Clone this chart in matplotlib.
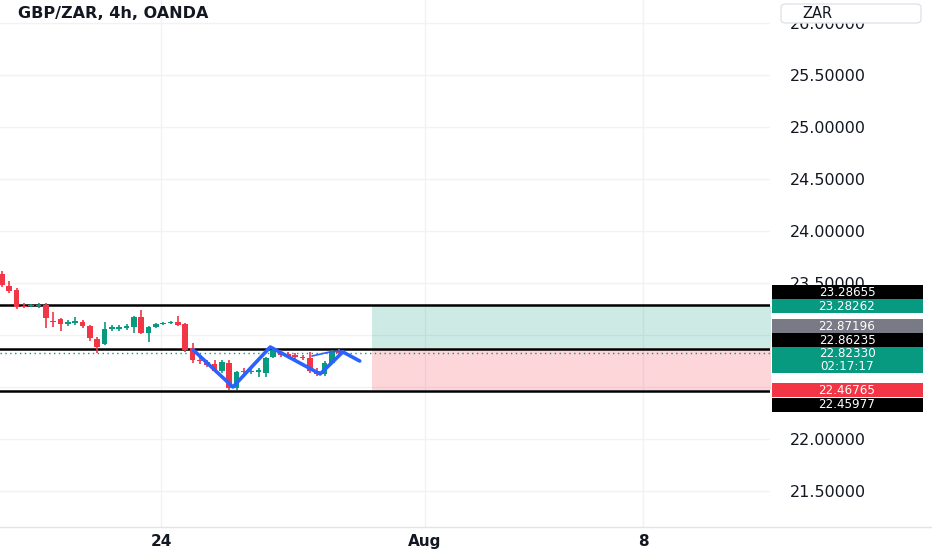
import matplotlib
matplotlib.use("Agg")
import matplotlib.pyplot as plt
from matplotlib.patches import Rectangle, FancyBboxPatch
from matplotlib.lines import Line2D

# GBP/ZAR 4h candles (bar index 0..46)
opens  = [23.587, 23.471, 23.433, 23.279, 23.275, 23.279, 23.288, 23.135, 23.154, 23.106,
          23.115, 23.125, 23.087, 22.962, 22.913, 23.058, 23.062, 23.067, 23.077, 23.173,
          23.019, 23.077, 23.106, 23.115, 23.125, 23.106, 22.875, 22.760, 22.740, 22.721,
          22.654, 22.731, 22.490, 22.654, 22.644, 22.644, 22.635, 22.788, 22.837, 22.817,
          22.808, 22.788, 22.779, 22.654, 22.625, 22.731, 22.837]
highs  = [23.615, 23.519, 23.452, 23.308, 23.298, 23.308, 23.308, 23.221, 23.163, 23.144,
          23.173, 23.144, 23.096, 22.981, 23.125, 23.096, 23.092, 23.106, 23.183, 23.240,
          23.087, 23.115, 23.125, 23.135, 23.183, 23.115, 22.923, 22.788, 22.760, 22.760,
          22.760, 22.760, 22.654, 22.683, 22.673, 22.683, 22.788, 22.885, 22.856, 22.837,
          22.827, 22.808, 22.837, 22.683, 22.750, 22.856, 22.865]
lows   = [23.462, 23.404, 23.250, 23.260, 23.269, 23.260, 23.067, 23.077, 23.038, 23.087,
          23.096, 23.067, 22.942, 22.827, 22.904, 23.038, 23.040, 23.048, 23.019, 23.010,
          22.933, 23.067, 23.096, 23.106, 23.087, 22.837, 22.731, 22.721, 22.692, 22.644,
          22.635, 22.471, 22.471, 22.625, 22.625, 22.596, 22.596, 22.779, 22.788, 22.779,
          22.769, 22.760, 22.635, 22.606, 22.606, 22.721, 22.798]
closes = [23.481, 23.423, 23.269, 23.269, 23.285, 23.288, 23.163, 23.125, 23.106, 23.122,
          23.135, 23.087, 22.971, 22.885, 23.058, 23.077, 23.080, 23.087, 23.173, 23.019,
          23.077, 23.106, 23.115, 23.125, 23.096, 22.856, 22.760, 22.750, 22.712, 22.654,
          22.740, 22.490, 22.644, 22.644, 22.654, 22.663, 22.779, 22.856, 22.808, 22.798,
          22.788, 22.779, 22.654, 22.625, 22.731, 22.837, 22.8233]

# drawn pattern (blue zigzag) and small arc
pattern_x = [26.1, 31.5, 36.6, 43.4, 46.5, 48.8]
pattern_y = [22.856, 22.500, 22.885, 22.625, 22.837, 22.750]
arc_x = [42.3, 44.7, 46.5]
arc_y = [22.798, 22.837, 22.846]

# horizontal levels and long/short position tool
black_levels = [23.28655, 22.86235, 22.45977]
entry = 22.87196
target = 23.28262
stop = 22.46765
last_price = 22.82330
position_start = 50.5

y_ticks = [21.5, 22.0, 22.5, 23.0, 23.5, 24.0, 24.5, 25.0, 25.5, 26.0]
hidden_ticks = [22.5, 23.0]   # covered by the price labels in the screenshot
x_ticks = [21.7, 57.7, 87.5]
x_labels = ["24", "Aug", "8"]

# right-scale labels: text, centre y (px), colour
price_labels = [
    ("23.28655", 292, "#000000"),
    ("23.28262", 306, "#089981"),
    ("22.87196", 326, "#787b86"),
    ("22.86235", 340, "#000000"),
    ("22.82330\n02:17:17", 360, "#089981"),
    ("22.46765", 390, "#f23645"),
    ("22.45977", 405, "#000000"),
]

UP = "#089981"
DOWN = "#f23645"
TXT = "#131722"

W, H = 932, 550
fig = plt.figure(figsize=(W / 100, H / 100), dpi=100)
ax = fig.add_axes([0, 23 / H, 770 / W, 527 / H])

ax.set_xlim(-0.27, 104.77)
ax.set_ylim(21.154, 26.221)

for s in ax.spines.values():
    s.set_visible(False)
ax.grid(True, color="#f0f2f5", lw=1)
ax.set_axisbelow(True)

# position tool boxes
ax.fill_between([position_start, 120], entry, target, color=UP, alpha=0.2, lw=0)
ax.fill_between([position_start, 120], stop, entry, color=DOWN, alpha=0.2, lw=0)

for lvl in black_levels:
    ax.axhline(lvl, color="black", lw=1.8, zorder=3)

ax.axhline(last_price, color=UP, lw=1, ls=(0, (1, 2.5)), zorder=2)

# candles
for i in range(len(opens)):
    o, h, l, c = opens[i], highs[i], lows[i], closes[i]
    col = UP if c >= o else DOWN
    ax.vlines(i, l, h, color=col, lw=1.2, zorder=4)
    body = max(abs(c - o), 0.01)
    ax.bar(i, body, bottom=min(o, c), width=0.78, color=col, lw=0, zorder=4)

ax.plot(pattern_x, pattern_y, color="#2962ff", lw=2.6, solid_capstyle="round",
        solid_joinstyle="round", zorder=5)
ax.plot(arc_x, arc_y, color="#2962ff", lw=1.2, zorder=5)

ax.yaxis.tick_right()
ax.set_yticks(y_ticks)
ax.set_yticklabels(["" if v in hidden_ticks else f"{v:.5f}" for v in y_ticks])
ax.tick_params(axis="y", length=0, pad=14, labelsize=11.5, labelcolor=TXT)
ax.set_xticks(x_ticks)
ax.set_xticklabels(x_labels)
ax.tick_params(axis="x", length=0, pad=5, labelsize=11, labelcolor=TXT)
for t in ax.get_xticklabels():
    t.set_fontweight("bold")

fig.add_artist(Line2D([0, 1], [23 / H, 23 / H], color="#e0e3eb", lw=1))

# title
fig.text(18 / W, 1 - 13 / H, "GBP/ZAR, 4h, OANDA", fontsize=11.5, fontweight="bold",
         color=TXT, ha="left", va="center")

# currency box
fig.add_artist(FancyBboxPatch((781 / W, 1 - 23 / H), 140 / W, 19 / H,
                              boxstyle="round,pad=0,rounding_size=0.006",
                              transform=fig.transFigure, fc="white", ec="#e0e3eb", lw=1))
fig.text(802 / W, 1 - 13 / H, "ZAR", fontsize=10.5, color=TXT, ha="left", va="center")

# price labels on the right scale
for text, yc, col in price_labels:
    hgt = 26 if "\n" in text else 14
    fig.add_artist(Rectangle((772 / W, 1 - (yc + hgt / 2) / H), 151 / W, hgt / H,
                             transform=fig.transFigure, fc=col, ec="none"))
    fig.text(847 / W, 1 - yc / H, text, fontsize=8.6, color="white", ha="center",
             va="center", linespacing=1.0)

fig.savefig("out.png", dpi=100)
